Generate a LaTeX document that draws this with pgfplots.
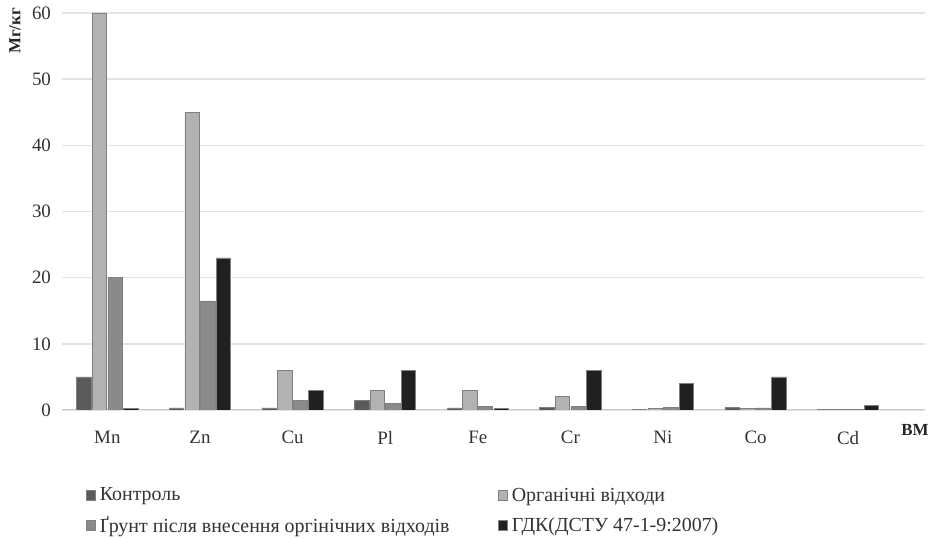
\documentclass[border=0pt]{standalone}
\usepackage{fontspec}
\setmainfont{Liberation Serif}
\usepackage{pgfplots}
\pgfplotsset{compat=1.18}
\definecolor{kontrol}{HTML}{5A5A5A}
\definecolor{organic}{HTML}{B2B2B2}
\definecolor{grunt}{HTML}{8A8A8A}
\definecolor{gdk}{HTML}{202020}
\definecolor{gridc}{HTML}{E4E4DE}

\pgfplotstableread{
x  kontrol organic grunt gdk
0  5.0     60.0    20.0  0.2
1  0.3     45.0    16.5  23.0
2  0.3     6.0     1.5   3.0
3  1.5     3.0     1.0   6.0
4  0.3     3.0     0.5   0.2
5  0.4     2.0     0.5   6.0
6  0.1     0.2     0.4   4.0
7  0.4     0.2     0.3   5.0
8  0.1     0.1     0.1   0.7
}\metals

\begin{document}
\begin{tikzpicture}
\begin{axis}[
    scale only axis,
    width=431.5bp, height=198.5bp,
    ybar=0.6bp, bar width=7.2bp,
    xmin=-0.49, xmax=8.83,
    ymin=0, ymax=60,
    ytick={0,10,...,60},
    xtick=data,
    xticklabels={Mn,Zn,Cu,Pl,Fe,Cr,Ni,Co,Cd},
    major tick length=0pt,
    axis line style={draw=none},
    ymajorgrids, grid style={gridc, line width=0.8pt},
    tick label style={font=\fontsize{9.5}{11}\selectfont, text=black!80},
    xticklabel style={yshift=-7bp},
    yticklabel style={xshift=-2bp},
    /pgf/number format/assume math mode=true,
    ylabel={Мг/кг},
    ylabel style={at={(rel axis cs:0,1)}, anchor=center, xshift=-9bp, yshift=23.5bp, font=\bfseries\fontsize{8.5}{10}\selectfont, text=black!85},
    xlabel={ВМ},
    xlabel style={at={(rel axis cs:1,0)}, anchor=center, xshift=-5bp, yshift=-10bp, font=\bfseries\fontsize{8.5}{10}\selectfont, text=black!85},
    legend columns=2,
    legend cell align=left,
    legend style={at={(axis description cs:0.02,-0.175)}, anchor=north west, draw=none,
        font=\fontsize{10}{12}\selectfont, text=black!80,
        /tikz/every even column/.append style={column sep=22bp}, row sep=2bp},
    legend image code/.code={\fill[#1] (0bp,-2.2bp) rectangle (4.8bp,2.6bp);},
    every axis plot/.append style={draw=black!50, line width=0.3pt},
]
\draw[black!20, line width=2.2pt] ([yshift=-0.8bp]rel axis cs:0,0) -- ([yshift=-0.8bp]rel axis cs:1,0);
\addplot[fill=kontrol] table[x=x, y=kontrol] {\metals};
\addplot[fill=organic] table[x=x, y=organic] {\metals};
\addplot[fill=grunt] table[x=x, y=grunt] {\metals};
\addplot[fill=gdk] table[x=x, y=gdk] {\metals};
\legend{Контроль, Органічні відходи, Ґрунт після внесення оргінічних відходів, ГДК(ДСТУ 47-1-9:2007)}
\coordinate (ll) at (rel axis cs:0,0);
\coordinate (ur) at (rel axis cs:1,1);
\end{axis}
\pgfresetboundingbox
\path ([xshift=-31bp,yshift=-64.5bp]ll) rectangle ([xshift=3bp,yshift=6.5bp]ur);
\end{tikzpicture}
\end{document}
